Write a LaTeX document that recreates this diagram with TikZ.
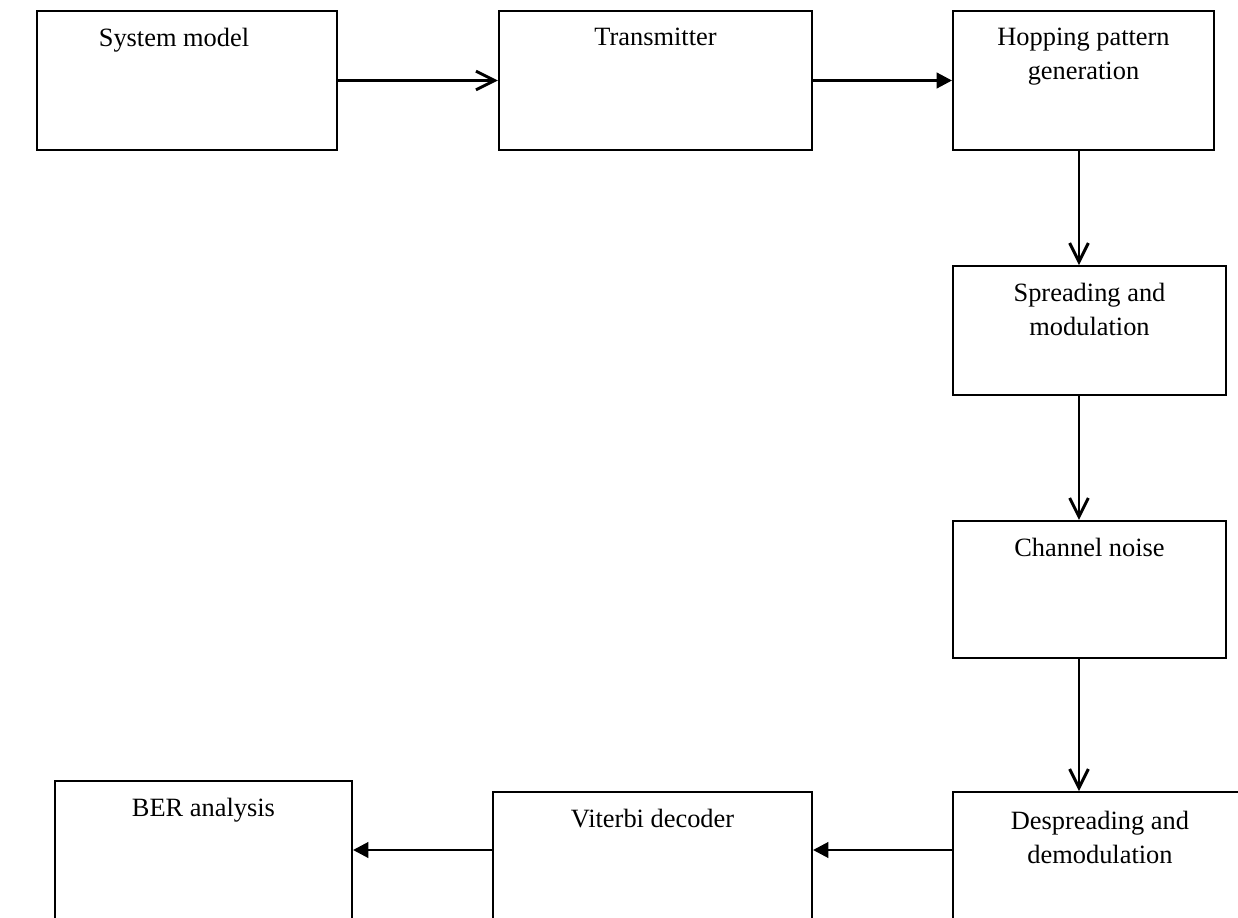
\documentclass[tikz,border=0pt]{standalone}
\usepackage{fontspec}
\setmainfont{Liberation Serif}
\usetikzlibrary{arrows.meta,positioning,calc}

\begin{document}
\begin{tikzpicture}[x=0.4545pt,y=-0.4545pt,
box/.style={draw,line width=.9pt,minimum width=#1,inner sep=0pt},
txt/.style={inner sep=0pt,align=center,font=\fontsize{12}{15.45}\selectfont},
barb/.style={-{Straight Barb[length=8.5pt,width=8.5pt]},line width=1.35pt},
tri/.style={-{Triangle[length=7pt,width=7pt]},line width=1.35pt}]
\useasboundingbox (0,0) rectangle (1238,918);
\clip (0,0) rectangle (1238,918);
% top row
\node[box=136.4pt,minimum height=63.2pt](sm) at (187,80.5){};
\node[box=142.3pt,minimum height=63.2pt](tx) at (655.5,80.5){};
\node[box=118.6pt,minimum height=63.2pt](hp) at (1083.5,80.5){};
% right column
\node[box=124.1pt,minimum height=58.6pt](sp) at (1089.5,330.5){};
\node[box=124.1pt,minimum height=62.3pt](cn) at (1089.5,589.5){};
% bottom row (cut by the page)
\node[box=133.6pt,minimum height=63.6pt](ds) at (1100,862){};
\node[box=145pt,minimum height=63.6pt](vd) at (652.5,862){};
\node[box=135pt,minimum height=63.6pt](ber) at (203.5,851){};
% texts
\node[txt,below=8.2pt of sm.north,xshift=-5.9pt](smt){System model};
\node[txt,below=8.2pt of tx.north](txt1){Transmitter};
\node[txt,below=8.2pt of hp.north](hpt){Hopping pattern\\generation};
\node[txt,below=8.2pt of sp.north](spt){Spreading and\\modulation};
\node[txt,below=8.2pt of cn.north](cnt){Channel noise};
\node[txt,below=9pt of ds.north](dst){Despreading and\\demodulation};
\node[txt,below=8.2pt of vd.north](vdt){Viterbi decoder};
\node[txt,below=8.2pt of ber.north](bert){BER analysis};
% arrows
\coordinate(col) at (1079,0);
\draw[barb](sm)--(tx);\draw[tri](tx)--(hp);
\draw[barb](col|-hp.south)--(col|-sp.north);
\draw[barb](col|-sp.south)--(col|-cn.north);
\draw[barb](col|-cn.south)--(col|-ds.north);
\coordinate(dsw) at ($(ds.west)+(0,-12)$);
\draw[tri](dsw)--(dsw-|vd.east);
\draw[tri](dsw-|vd.west)--(dsw-|ber.east);
\end{tikzpicture}
\end{document}
